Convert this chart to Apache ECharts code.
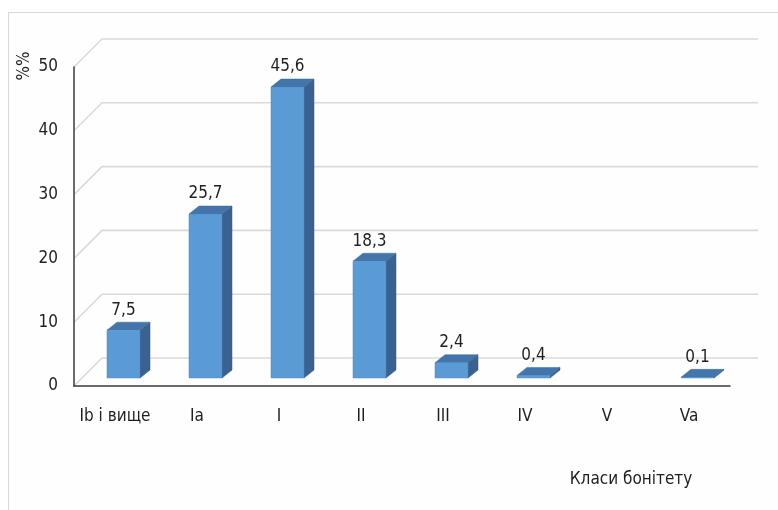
<!DOCTYPE html>
<html>
<head>
<meta charset="utf-8">
<script src="https://cdn.jsdelivr.net/npm/echarts@6/dist/echarts.min.js"></script>
<style>
html,body{margin:0;padding:0;background:#fff;}
#c{width:778px;height:510px;}
</style>
</head>
<body>
<div id="c"></div>
<script>
const categories = ['Ib і вище', 'Ia', 'I', 'II', 'III', 'IV', 'V', 'Va'];
const values = [7.5, 25.7, 45.6, 18.3, 2.4, 0.4, null, 0.1];
const yTicks = [0, 10, 20, 30, 40, 50];
const yAxisTitle = '%%';
const xAxisTitle = 'Класи бонітету';

const FONT = "'Liberation Sans Narrow', 'DejaVu Sans Condensed', 'Liberation Sans', sans-serif";
const FS = 17;
const TXT = '#1f1f1f';
const WALL = 28;      // back wall depth offset
const BSH = 8;        // bar position offset (depth)
const BW = 33;        // bar front width
const BDX = 10, BDY = 8; // bar depth

const barData = [];
values.forEach((v, i) => { if (v !== null) barData.push([i, v]); });
const wallData = yTicks.map(t => [0, t]);

const chart = echarts.init(document.getElementById('c'));
chart.setOption({
  animation: false,
  backgroundColor: '#ffffff',
  grid: { left: 74, right: 48, top: 67, bottom: 124 },
  xAxis: {
    type: 'category',
    data: categories,
    axisLine: { show: true, lineStyle: { color: '#3a3a3a', width: 1.5 } },
    axisTick: { show: false },
    axisLabel: { color: TXT, fontSize: FS, fontFamily: FONT, margin: 22, interval: 0 },
    z: 5
  },
  yAxis: {
    type: 'value',
    min: 0, max: 50, interval: 10,
    axisLine: { show: true, lineStyle: { color: '#3a3a3a', width: 1.5 } },
    axisTick: { show: false },
    splitLine: { show: false },
    axisLabel: { color: TXT, fontSize: FS, fontFamily: FONT, margin: 16 },
    z: 5
  },
  graphic: [
    { type: 'rect', shape: { x: 8.5, y: 12.5, width: 900, height: 700 },
      style: { fill: '#fefefe', stroke: '#d9d9d9', lineWidth: 1 }, z: -10, silent: true },
    { type: 'text', x: 25, y: 66, rotation: Math.PI / 2,
      style: { text: yAxisTitle, fontSize: FS, fontFamily: FONT, fill: TXT, align: 'center', verticalAlign: 'middle' } },
    { type: 'text', x: 631, y: 480,
      style: { text: xAxisTitle, fontSize: FS, fontFamily: FONT, fill: TXT, align: 'center', verticalAlign: 'middle' } }
  ],
  series: [
    {
      type: 'custom',
      clip: false,
      silent: true,
      z: 1,
      data: wallData,
      renderItem: function (params, api) {
        const v = api.value(1);
        const p = api.coord([0, v]);
        const band = api.size([1, 0])[0];
        const left = p[0] - band / 2;
        const right = left + band * categories.length;
        return {
          type: 'polyline',
          shape: { points: [[left, p[1]], [left + WALL, p[1] - WALL], [right + WALL, p[1] - WALL]] },
          style: { stroke: '#dadada', lineWidth: 1.6, fill: null }
        };
      }
    },
    {
      type: 'custom',
      clip: false,
      z: 3,
      data: barData,
      renderItem: function (params, api) {
        const i = api.value(0), v = api.value(1);
        const c0 = api.coord([i, 0]);
        const c1 = api.coord([i, v]);
        const cx = c0[0] + BSH + 0.5;
        const x0 = cx - BW / 2, x1 = cx + BW / 2;
        const yb = c0[1] - BSH, yt = c1[1] - BSH;
        return {
          type: 'group',
          children: [
            { type: 'polygon', shape: { points: [[x1, yb], [x1 + BDX, yb - BDY], [x1 + BDX, yt - BDY], [x1, yt]] },
              style: { fill: '#3a6190', stroke: '#355a86', lineWidth: 0.5 } },
            { type: 'polygon', shape: { points: [[x0, yt], [x0 + BDX, yt - BDY], [x1 + BDX, yt - BDY], [x1, yt]] },
              style: { fill: '#4374aa', stroke: '#3d6a9c', lineWidth: 0.5 } },
            { type: 'rect', shape: { x: x0, y: yt, width: BW, height: yb - yt },
              style: { fill: '#5b9bd5', stroke: '#4f8bc4', lineWidth: 0.5 } },
            { type: 'text', x: cx, y: yt - 20,
              style: { text: String(v).replace('.', ','), fontSize: FS, fontFamily: FONT, fill: TXT, align: 'center', verticalAlign: 'middle' } }
          ]
        };
      }
    }
  ]
});
</script>
</body>
</html>
